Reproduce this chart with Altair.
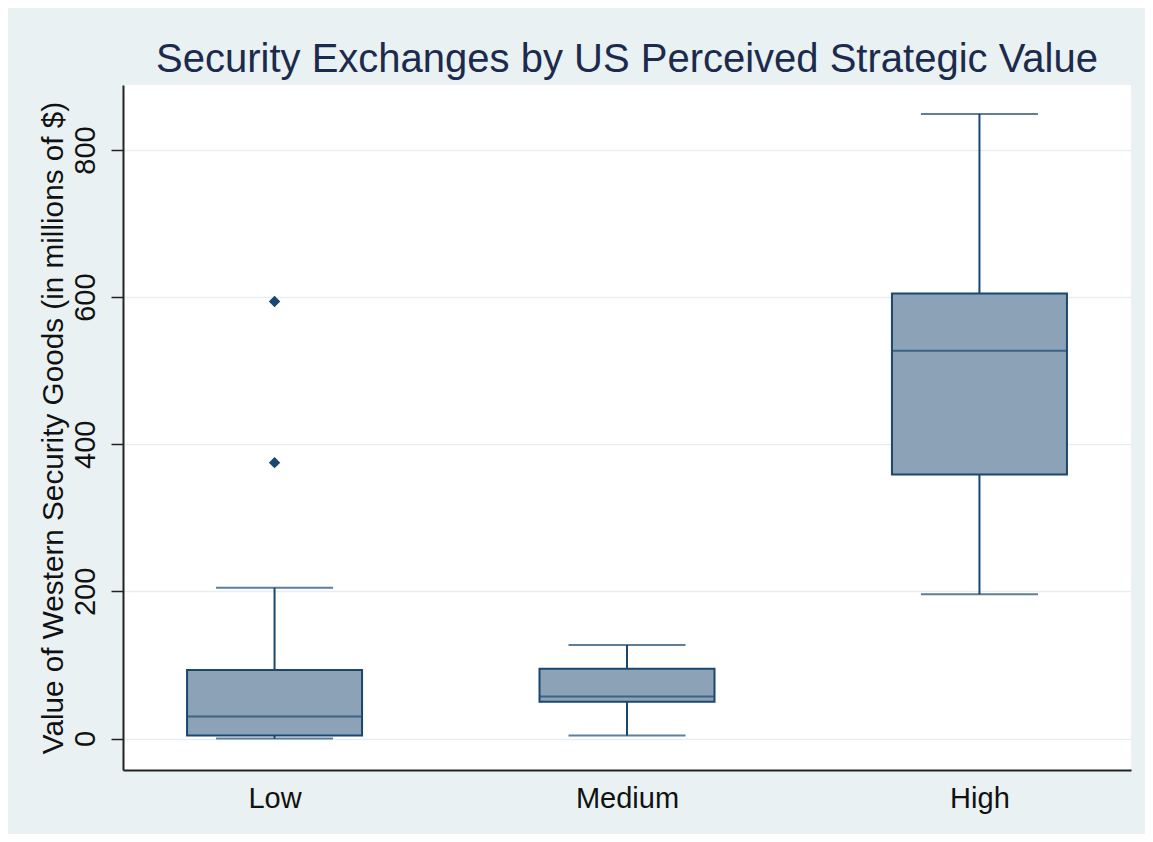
import altair as alt
import pandas as pd

categories = ["Low", "Medium", "High"]
lower_whisker = [0, 4, 196]
q1 = [4, 50, 359]
median = [30, 57, 527]
q3 = [93, 95, 605]
upper_whisker = [205, 127, 849]

outlier_cat = ["Low", "Low"]
outlier_val = [594, 375]

y_ticks = [0, 200, 400, 600, 800]

NAVY = "#1A476F"
FILL = "#8CA3B7"
BG = "#E9F1F3"
FONT = "Liberation Sans"

box = pd.DataFrame({
    "cat": categories, "lo": lower_whisker, "q1": q1,
    "med": median, "q3": q3, "hi": upper_whisker,
})
out = pd.DataFrame({"cat": outlier_cat, "val": outlier_val})

xscale = alt.Scale(type="point", padding=0.43, domain=categories)
yscale = alt.Scale(domain=[-42.8, 888.4], nice=False, zero=False)

x_enc = alt.X(
    "cat:N", sort=categories, scale=xscale, title=None,
    axis=alt.Axis(
        ticks=False, tickSize=0, labelPadding=37, labelBaseline="alphabetic",
        labelFontSize=29, labelColor="#111111", labelFont=FONT,
        domainColor="#222222", domainWidth=2, grid=False, labelAngle=0,
    ),
)
y_axis = alt.Axis(
    values=y_ticks, tickSize=12, tickColor="#222222", tickWidth=1.5,
    labelAngle=270, labelAlign="center", labelBaseline="alphabetic",
    labelPadding=17, labelFontSize=29, labelColor="#111111", labelFont=FONT,
    domainColor="#222222", domainWidth=2,
    grid=True, gridColor="#E6EEF1", gridWidth=1.5,
    title="Value of Western Security Goods (in millions of $)",
    titleFontSize=29.7, titleFont=FONT, titleColor="#111111",
    titleFontWeight="normal", titleAngle=270, titleAlign="center",
    titleBaseline="alphabetic", titleX=-61, titleY=342.5,
)

base = alt.Chart(box)

whisk_up = base.mark_rule(color=NAVY, strokeWidth=2).encode(
    x=x_enc, y=alt.Y("q3:Q", scale=yscale, axis=y_axis), y2="hi:Q")
whisk_lo = base.mark_rule(color=NAVY, strokeWidth=2).encode(
    x=x_enc, y=alt.Y("lo:Q", scale=yscale), y2="q1:Q")
rects = base.mark_bar(size=175, fill=FILL, stroke=NAVY, strokeWidth=2).encode(
    x=x_enc, y=alt.Y("q1:Q", scale=yscale), y2="q3:Q")
meds = base.mark_tick(size=175, thickness=2, color=NAVY).encode(
    x=x_enc, y=alt.Y("med:Q", scale=yscale))
cap_hi = base.mark_tick(size=117, thickness=2, color=NAVY).encode(
    x=x_enc, y=alt.Y("hi:Q", scale=yscale))
cap_lo = base.mark_tick(size=117, thickness=2, color=NAVY).encode(
    x=x_enc, y=alt.Y("lo:Q", scale=yscale))
pts = alt.Chart(out).mark_point(shape="diamond", filled=True, size=130,
                                color=NAVY, opacity=1).encode(
    x=x_enc, y=alt.Y("val:Q", scale=yscale))

chart = alt.layer(whisk_up, whisk_lo, rects, meds, cap_hi, cap_lo, pts).properties(
    width=1008, height=685,
    background=BG,
    autosize=alt.AutoSizeParams(type="none"),
    padding={"left": 115, "top": 77, "right": 14, "bottom": 64},
    title=alt.TitleParams(
        "Security Exchanges by US Perceived Strategic Value",
        fontSize=40, font=FONT, color="#1C2B4C", fontWeight="normal",
        anchor="middle", baseline="alphabetic", offset=14, dy=41,
    ),
).configure_view(fill="white", stroke=None)

chart.save("out.html", embed_options={"renderer": "svg", "actions": False})
